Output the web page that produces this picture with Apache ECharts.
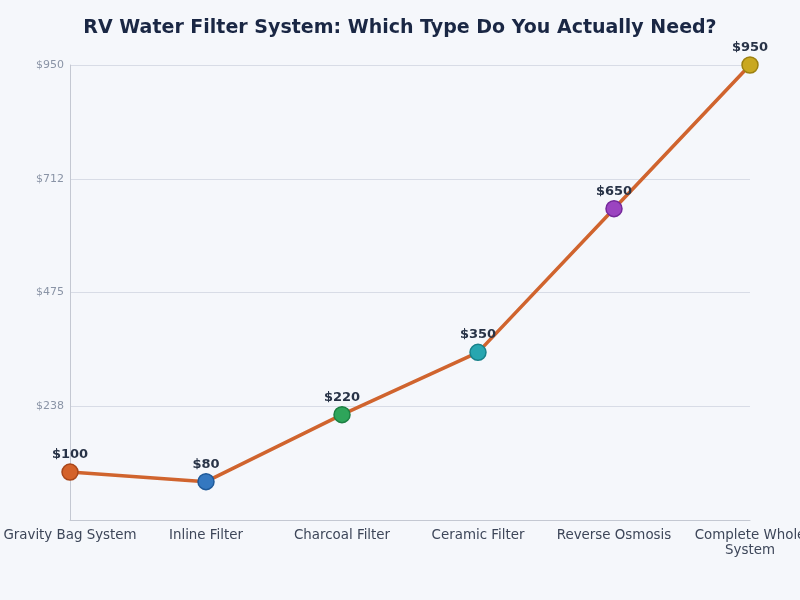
<!DOCTYPE html>
<html><head><meta charset="utf-8">
<script src="https://cdn.jsdelivr.net/npm/echarts@6/dist/echarts.min.js"></script>
<style>html,body{margin:0;padding:0;background:#f5f7fb;}#c{width:800px;height:600px;}</style>
</head><body><div id="c"></div>
<script>
const categories = ["Gravity Bag System", "Inline Filter", "Charcoal Filter", "Ceramic Filter", "Reverse Osmosis", "Complete Whole System"];
const prices = [100, 80, 220, 350, 650, 950];
const pointColors = ["#d4622a", "#3478c0", "#2ea55a", "#27a6b0", "#9b44c0", "#c9a820"];
const pointBorders = ["#a8461a", "#1f5a99", "#1d7f42", "#17818a", "#74289a", "#9c8010"];
const yTickLabels = {0: "$0", 237.5: "$238", 475: "$475", 712.5: "$712", 950: "$950"};

const chart = echarts.init(document.getElementById('c'));
const font = "DejaVu Sans";
chart.setOption({
  backgroundColor: "#f5f7fb",
  title: {
    text: "RV Water Filter System: Which Type Do You Actually Need?",
    left: "center", top: 14,
    textStyle: {fontFamily: font, fontSize: 19, fontWeight: "bold", color: "#1a2744"}
  },
  grid: {left: 70, right: 50, top: 65, bottom: 80, outerBoundsMode: "none", containLabel: false},
  xAxis: {
    type: "category", data: categories, boundaryGap: false,
    axisLine: {lineStyle: {color: "#c4c8d2"}},
    axisTick: {show: false},
    axisLabel: {
      fontFamily: font, fontSize: 13.4, color: "#3d4659", margin: 8, interval: 0, lineHeight: 15,
      formatter: v => v.length > 20 ? v.replace(/ (\S+)$/, "\n$1") : v
    }
  },
  yAxis: {
    type: "value", min: 0, max: 950, interval: 237.5,
    axisLine: {show: true, lineStyle: {color: "#c4c8d2"}},
    axisTick: {show: false},
    splitLine: {lineStyle: {color: "#d8dce6"}},
    axisLabel: {
      fontFamily: font, fontSize: 11, color: "#8a94a6", margin: 6,
      formatter: v => v === 0 ? "" : (yTickLabels[v] || ("$" + v))
    }
  },
  series: [{
    type: "line", data: prices.map((v, i) => ({
      value: v,
      itemStyle: {color: pointColors[i], borderColor: pointBorders[i], borderWidth: 1.5}
    })),
    symbol: "circle", symbolSize: 16,
    lineStyle: {color: "#d0642e", width: 3.5},
    label: {
      show: true, position: "top", distance: 2,
      fontFamily: font, fontSize: 13, fontWeight: "bold", color: "#283347",
      formatter: p => "$" + p.value
    },
    z: 3
  }],
  animation: false
});
</script></body></html>
